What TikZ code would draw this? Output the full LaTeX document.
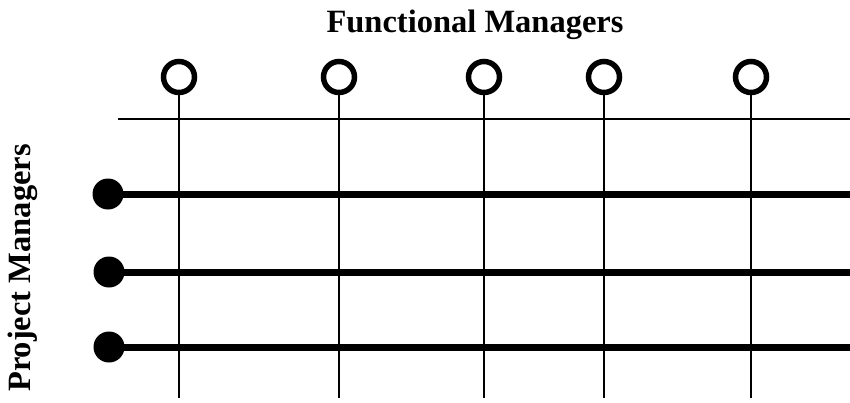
\documentclass[tikz,border=0pt]{standalone}
\usepackage{fontspec}
\setmainfont{Liberation Serif}
\usepackage{tikz}
\usetikzlibrary{positioning}
\usetikzlibrary{calc}

\begin{document}
\begin{tikzpicture}[x=1pt ,y=-1pt ,
    functional/.style ={circle ,draw ,line width =5.5pt ,minimum size =31pt ,inner sep =0pt},
    project/.style ={circle ,fill ,minimum size =31pt ,inner sep =0pt},
    thin line/.style ={line width =2pt},
    thick line/.style ={line width =7pt},
    heading/.style ={font=\bfseries\fontsize{32.5}{36}\selectfont}
    ]
    \useasboundingbox (0,0) rectangle (850,402);
    \node[heading] (F) at (475,25) {Functional Managers};
    \node[heading ,rotate=90] (P) at (23,268) {Project Managers};
    % functional managers
    \node[functional] (F1) at (179,77) {};
    \node[functional] (F2) at (339,77) {};
    \node[functional] (F3) at (484,77) {};
    \node[functional] (F4) at (604,77) {};
    \node[functional] (F5) at (751,77) {};
    \coordinate (B1) at (179,398);
    \coordinate (B2) at (339,398);
    \coordinate (B3) at (484,398);
    \coordinate (B4) at (604,398);
    \coordinate (B5) at (751,398);
    \draw[thin line] (F1) -- (B1);
    \draw[thin line] (F2) -- (B2);
    \draw[thin line] (F3) -- (B3);
    \draw[thin line] (F4) -- (B4);
    \draw[thin line] (F5) -- (B5);
    \coordinate (H0) at (118,119);
    \coordinate (H1) at (850,119);
    \draw[thin line] (H0) -- (H1);
    % project managers
    \node[project] (P1) at (108,194) {};
    \node[project] (P2) at (109,272) {};
    \node[project] (P3) at (109,347) {};
    \coordinate (E1) at (850,194);
    \coordinate (E2) at (850,272);
    \coordinate (E3) at (850,347);
    \draw[thick line] (P1.center) -- (E1);
    \draw[thick line] (P2.center) -- (E2);
    \draw[thick line] (P3.center) -- (E3);
\end{tikzpicture}
\end{document}
